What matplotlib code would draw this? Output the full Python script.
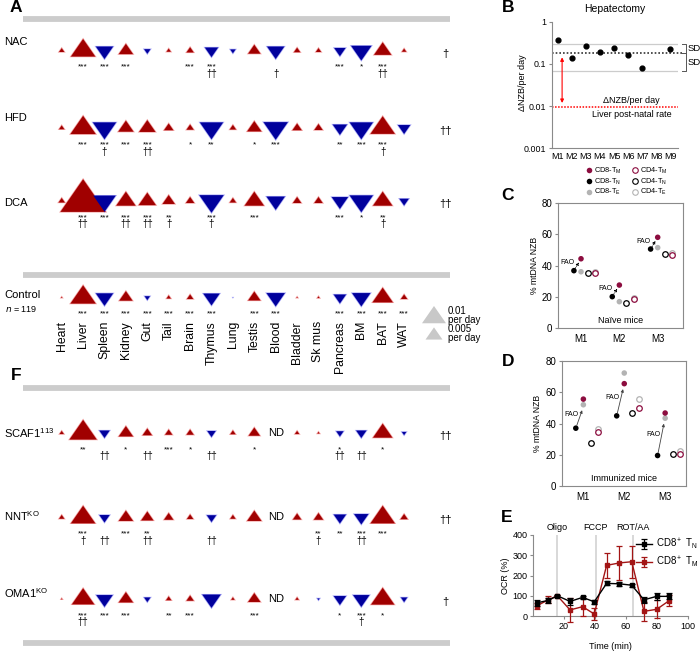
import numpy as np
import matplotlib.pyplot as plt
from matplotlib.patches import Polygon
from matplotlib.lines import Line2D

plt.rcParams['font.family'] = ['Liberation Sans', 'DejaVu Sans']
plt.rcParams['mathtext.default'] = 'regular'

# ---- panel A / F data: NZB change per day (x1e-3, + up / - down), None = ND
organs = ['Heart', 'Liver', 'Spleen', 'Kidney', 'Gut', 'Tail', 'Brain', 'Thymus', 'Lung',
          'Testis', 'Blood', 'Bladder', 'Sk mus', 'Pancreas', 'BM', 'BAT', 'WAT']

nac = [1.1, 12.7, -6.9, 5.0, -1.4, 0.85, 1.7, -4.4, -1.1, 3.9, -6.9, 1.4, 1.1, -3.4, -9.2, 6.9, 0.85]
hfd = [1.1, 13.6, -11.7, 5.6, 6.3, 2.5, 1.7, -11.7, 1.4, 5.0, -12.7, 2.5, 2.1, -5.0, -11.7, 12.7, -3.9]
dca = [1.4, 40.0, -10.9, 8.4, 6.9, 3.9, 2.1, -12.7, 1.4, 8.4, -7.7, 2.1, 2.1, -6.3, -11.7, 8.4, -2.5]
control = [0.28, 13.6, -6.9, 4.4, -1.1, 0.85, 1.4, -6.3, -0.11, 3.9, -7.7, 0.28, 0.43, -3.9, -7.7, 9.2, 1.4]
scaf1 = [0.85, 15.6, -2.9, 5.0, 2.5, 1.7, 1.7, -2.1, 1.1, 3.4, None, 0.85, 0.43, -1.7, -2.9, 8.4, -0.85]
nnt = [1.1, 12.7, -2.9, 5.0, 3.9, 2.5, 1.4, -2.5, 1.1, 5.0, None, 2.1, 2.5, -3.9, -5.0, 12.7, 1.7]
oma1 = [0.28, 10.9, -6.3, 5.0, -1.4, 1.1, 1.7, -7.7, 0.63, 3.9, None, 0.63, -0.43, -3.9, -6.3, 11.7, -1.4]

nac_stars = ['', '***', '***', '***', '', '', '***', '***', '', '', '', '', '', '***', '*', '***', '']
nac_dag = ['', '', '', '', '', '', '', '††', '', '', '†', '', '', '', '', '††', '']
hfd_stars = ['', '***', '***', '***', '***', '', '*', '**', '', '*', '***', '', '', '**', '***', '***', '']
hfd_dag = ['', '', '†', '', '††', '', '', '', '', '', '', '', '', '', '', '†', '']
dca_stars = ['', '***', '***', '***', '***', '**', '', '***', '', '***', '', '', '', '***', '*', '**', '']
dca_dag = ['', '††', '', '††', '††', '†', '', '†', '', '', '', '', '', '', '', '†', '']
control_stars = ['', '***', '***', '***', '***', '***', '***', '***', '', '***', '***', '', '', '***', '***', '***', '***']
control_dag = [''] * 17
scaf1_stars = ['', '**', '', '*', '', '***', '*', '', '', '*', '', '', '', '*', '', '*', '']
scaf1_dag = ['', '', '††', '', '††', '', '', '††', '', '', '', '', '', '††', '††', '', '']
nnt_stars = ['', '***', '', '***', '**', '', '', '', '', '', '', '', '**', '**', '***', '***', '']
nnt_dag = ['', '†', '††', '', '††', '', '', '††', '', '', '', '', '†', '', '††', '', '']
oma1_stars = ['', '***', '***', '***', '', '**', '***', '', '', '***', '', '', '', '*', '***', '*', '']
oma1_dag = ['', '††', '', '', '', '', '', '', '', '', '', '', '', '', '†', '', '']

row_names = ['NAC', 'HFD', 'DCA', 'Control', 'SCAF1$^{113}$', 'NNT$^{KO}$', 'OMA1$^{KO}$']
row_end = ['†', '††', '††', '', '††', '††', '†']

# ---- panel B
hep_mice = ['M1', 'M2', 'M3', 'M4', 'M5', 'M6', 'M7', 'M8', 'M9']
hep_rate = [0.37, 0.141, 0.27, 0.19, 0.235, 0.163, 0.079, np.nan, 0.226]
hep_mean, hep_sd = 0.179, 0.111
liver_postnatal = 0.0097

# ---- panels C / D
mice = ['M1', 'M2', 'M3']
naive = {'cd8_tn': [36.8, 20.2, 50.6], 'cd8_tm': [44.4, 27.6, 58.1], 'cd8_te': [36.1, 17.0, 51.5],
         'cd4_tn': [35.5, 16.3, 47.2], 'cd4_tm': [35.3, 18.5, 46.8], 'cd4_te': [35.8, 19.5, 48.3]}
immun = {'cd8_tn': [37.0, 44.9, 19.5], 'cd8_tm': [55.6, 65.5, 46.7], 'cd8_te': [52.0, 72.3, 43.4],
         'cd4_tn': [27.8, 46.7, 20.5], 'cd4_tm': [34.7, 49.9, 20.5], 'cd4_te': [36.4, 55.6, 22.7]}

# ---- panel E
time_min = [2.4, 9.9, 15.7, 23.9, 32.0, 39.5, 47.5, 55.7, 63.7, 71.6, 79.8, 87.7]
ocr_tn = [65, 77, 100, 72, 92, 70, 161, 159, 152, 80, 97, 97]
ocr_tn_err = [15, 12, 4, 18, 8, 10, 10, 10, 8, 15, 18, 15]
ocr_tm = [50, 80, 100, 30, 46, 10, 250, 262, 268, 23, 33, 75]
ocr_tm_err = [15, 18, 4, 58, 45, 30, 60, 85, 78, 48, 45, 28]
injections = [15.5, 40.5, 64.5]
inj_names = ['Oligo', 'FCCP', 'ROT/AA']

red_dark, red_light = '#a00000', '#f29c9c'
blue_dark, blue_light = '#00009c', '#a0a0f4'
maroon, grey = '#8c0d3f', '#b3b3b3'

fig = plt.figure(figsize=(7, 6.51), dpi=100)
ax = fig.add_axes([0, 0, 1, 1])
ax.set_xlim(0, 700)
ax.set_ylim(651, 0)
ax.axis('off')

org_x = 61.7 + 21.4 * np.arange(len(organs))
row_y = [50.7, 128, 201, 297.5, 433, 517.5, 599]
rows = [nac, hfd, dca, control, scaf1, nnt, oma1]
stars = [nac_stars, hfd_stars, dca_stars, control_stars, scaf1_stars, nnt_stars, oma1_stars]
dags = [nac_dag, hfd_dag, dca_dag, control_dag, scaf1_dag, nnt_dag, oma1_dag]
label_y = [42, 118, 203, 295, 433, 516, 593]


def tri(xc, yc, w, up, color, z):
    h = 0.72 * w
    if up:
        pts = [(xc - w / 2, yc + h / 3), (xc + w / 2, yc + h / 3), (xc, yc - 2 * h / 3)]
    else:
        pts = [(xc - w / 2, yc - h / 3), (xc + w / 2, yc - h / 3), (xc, yc + 2 * h / 3)]
    ax.add_patch(Polygon(pts, closed=True, facecolor=color, edgecolor='none', zorder=z))


for r, vals in enumerate(rows):
    yc = row_y[r]
    for i, v in enumerate(vals):
        if v is None:
            ax.text(org_x[i], yc, 'ND', ha='center', va='center', fontsize=8)
            continue
        w = 24 * np.sqrt(abs(v) / 10)
        up = v > 0
        tri(org_x[i], yc, w, up, red_light if up else blue_light, 2)
        if w > 4:
            tri(org_x[i], yc, w - 2.6, up, red_dark if up else blue_dark, 3)
        if stars[r][i]:
            ax.text(org_x[i], yc + 16.5, stars[r][i], ha='center', va='center', fontsize=6)
        if dags[r][i]:
            ax.text(org_x[i], yc + 23.5, dags[r][i], ha='center', va='center', fontsize=7)
    ax.text(4, label_y[r], row_names[r], ha='left', va='center', fontsize=8)
    if row_end[r]:
        ax.text(445, yc + 3, row_end[r], ha='center', va='center', fontsize=8)

ax.text(5, 308.5, '$\\it{n}$ = 119', ha='left', va='center', fontsize=6.5)

for y in [19.3, 275, 387.7, 643.3]:
    ax.hlines(y, 23, 450, color='#cccccc', lw=4.2)

for i, name in enumerate(organs):
    ax.text(org_x[i], 321, name, rotation=90, ha='center', va='top', fontsize=8.8)

# size legend
for v, yc, lab in [(10, 317.5, '0.01\nper day'), (5, 335.5, '0.005\nper day')]:
    tri(434, yc, 24 * np.sqrt(v / 10), True, '#c8c8c8', 2)
    ax.text(448, yc - 2, lab, ha='left', va='center', fontsize=7, linespacing=0.8)

for lab, x, y in [('A', 16, 8), ('F', 16, 375), ('B', 508, 8), ('C', 508, 196),
                  ('D', 508, 362), ('E', 507, 518)]:
    ax.text(x, y, lab, ha='center', va='center', fontsize=12.5, fontweight='bold')


def style(a, full=False):
    for s in a.spines.values():
        s.set_color('#8a8a8a')
        s.set_linewidth(0.8)
    if not full:
        a.spines['top'].set_visible(False)
        a.spines['right'].set_visible(False)
    a.tick_params(colors='#8a8a8a', labelcolor='black', length=2.5, width=0.8, pad=1.5)


# ---- B
axB = fig.add_axes([552 / 700, 1 - 148.3 / 651, 126 / 700, 126.6 / 651])
style(axB)
axB.set_yscale('log')
axB.set_ylim(0.001, 1)
xb = np.arange(1, len(hep_mice) + 1)
axB.set_xlim(0.58, 9.56)
axB.scatter(xb, hep_rate, s=12, color='black', zorder=3, clip_on=False)
axB.axhline(hep_mean, xmin=0, xmax=1.03, color='#333333', ls=(0, (1, 1.2)), lw=1.2, clip_on=False)
for yy in [hep_mean + hep_sd, hep_mean - hep_sd]:
    axB.axhline(yy, color='#cccccc', lw=0.9)
axB.axhline(liver_postnatal, color='red', ls=(0, (1, 1)), lw=1.1)
axB.annotate('', xy=(1.3, liver_postnatal * 1.05), xytext=(1.3, hep_mean * 0.93),
             arrowprops=dict(arrowstyle='<|-|>', color='red', lw=0.8, mutation_scale=5))
bt = axB.get_yaxis_transform()
for y1, y2 in [(hep_mean + hep_sd, hep_mean), (hep_mean, hep_mean - hep_sd)]:
    axB.plot([1.035, 1.06, 1.06, 1.035], [y1, y1, y2, y2], color='#555555', lw=0.7,
             transform=bt, clip_on=False)
    axB.text(1.073, np.sqrt(y1 * y2), 'SD', transform=bt, ha='left', va='center', fontsize=6.8)
axB.text(0.63, 0.0133, 'ΔNZB/per day', transform=bt, ha='center', va='center', fontsize=6.5)
axB.text(0.63, 0.0064, 'Liver post-natal rate', transform=bt, ha='center', va='center', fontsize=6.5)
axB.set_xticks(xb, hep_mice, fontsize=6.4)
axB.tick_params(axis='x', length=0, pad=3)
axB.set_yticks([0.001, 0.01, 0.1, 1], ['0.001', '0.01', '0.1', '1'], fontsize=6.4)
axB.minorticks_off()
axB.set_ylabel('ΔNZB/per day', fontsize=6.5)
axB.yaxis.set_label_coords(-0.2, 0.52)
axB.set_title('Hepatectomy', fontsize=7.5, pad=7)

# ---- C / D
offs = {'cd8_tn': -0.185, 'cd8_tm': 0.0, 'cd8_te': 0.0, 'cd4_tn': 0.185, 'cd4_tm': 0.37, 'cd4_te': 0.37}
cols = {'cd8_tn': 'black', 'cd8_tm': maroon, 'cd8_te': grey,
        'cd4_tn': 'black', 'cd4_tm': maroon, 'cd4_te': grey}
draw_order = ['cd4_te', 'cd4_tn', 'cd4_tm', 'cd8_te', 'cd8_tm', 'cd8_tn']


def cells(a, d, xl, caption, immunized):
    style(a, full=True)
    xm = np.arange(1, len(mice) + 1)
    for k in draw_order:
        x = xm + offs[k]
        if k.startswith('cd8'):
            a.scatter(x, d[k], s=16, color=cols[k], edgecolor='none', zorder=3)
        else:
            a.scatter(x, d[k], s=16, facecolor='white', edgecolor=cols[k], linewidth=0.9, zorder=3)
    for i in range(len(mice)):
        bx, by = xm[i] + offs['cd8_tn'], d['cd8_tn'][i]
        if immunized:
            ex, ey = xm[i] - 0.03, min(d['cd8_tm'][i], d['cd8_te'][i]) - 3.5
            a.annotate('', xy=(ex, ey), xytext=(bx, by),
                       arrowprops=dict(arrowstyle='-|>', color='#444444', lw=0.6,
                                       mutation_scale=4, shrinkA=2, shrinkB=0))
            a.text(bx + 0.06, (by + ey) / 2 + 3, 'FAO', ha='right', va='center', fontsize=5)
        else:
            a.annotate('', xy=(xm[i] + offs['cd8_tm'], d['cd8_tm'][i]), xytext=(bx, by),
                       arrowprops=dict(arrowstyle='-|>', color='black', lw=0.6, ls=':',
                                       mutation_scale=4, shrinkA=2, shrinkB=3))
            a.text(bx - 0.18, by + 5, 'FAO', ha='center', va='center', fontsize=5)
    a.set_xlim(*xl)
    a.set_ylim(0, 80)
    a.set_xticks(xm, mice, fontsize=7)
    a.tick_params(axis='x', length=0, pad=4)
    a.set_yticks([0, 20, 40, 60, 80])
    a.tick_params(axis='y', labelsize=7)
    a.set_ylabel('% mtDNA NZB', fontsize=6.2, labelpad=2)
    a.text(0.5, 0.06, caption, transform=a.transAxes, ha='center', va='center', fontsize=6.5)


axC = fig.add_axes([558 / 700, 1 - 328.3 / 651, 125 / 700, 125.3 / 651])
cells(axC, naive, (0.40, 3.66), 'Naïve mice', False)
axD = fig.add_axes([561.7 / 700, 1 - 486 / 651, 124.3 / 700, 125 / 651])
cells(axD, immun, (0.47, 3.51), 'Immunized mice', True)

leg_keys = ['cd8_tm', 'cd8_tn', 'cd8_te', 'cd4_tm', 'cd4_tn', 'cd4_te']
leg_labels = ['CD8-T$_M$', 'CD8-T$_N$', 'CD8-T$_E$', 'CD4-T$_M$', 'CD4-T$_N$', 'CD4-T$_E$']
handles = []
for k in leg_keys:
    filled = k.startswith('cd8')
    handles.append(Line2D([], [], ls='none', marker='o', ms=4,
                          markerfacecolor=cols[k] if filled else 'white',
                          markeredgecolor=cols[k] if not filled else 'none', markeredgewidth=0.8))
axC.legend(handles, leg_labels, ncol=2, loc='lower center', bbox_to_anchor=(0.55, 1.01),
           fontsize=5.3, frameon=False, handletextpad=0.2, columnspacing=1.3,
           labelspacing=0.08, handlelength=1, borderpad=0.1)

# ---- E
axE = fig.add_axes([533 / 700, 1 - 616 / 651, 155 / 700, 81 / 651])
style(axE)
for t, name in zip(injections, inj_names):
    axE.axvline(t, color='#d6d6d6', lw=1.3, zorder=0)
    axE.text(t, 1.09, name, transform=axE.get_xaxis_transform(), ha='center', va='center',
             fontsize=6.5)
axE.errorbar(time_min, ocr_tm, yerr=ocr_tm_err, color='#a31515', marker='s', ms=2.5, lw=1,
             elinewidth=0.9, capsize=2, capthick=0.9, clip_on=False, label='CD8$^+$ T$_M$', zorder=3)
axE.errorbar(time_min, ocr_tn, yerr=ocr_tn_err, color='black', marker='s', ms=2.5, lw=1,
             elinewidth=0.9, capsize=2, capthick=0.9, clip_on=False, label='CD8$^+$ T$_N$', zorder=4)
h, l = axE.get_legend_handles_labels()
axE.legend(h[::-1], l[::-1], loc='upper left', bbox_to_anchor=(0.63, 1.05), fontsize=7,
           frameon=False, handlelength=1.6, handletextpad=0.4, labelspacing=0.3, borderpad=0.1)
axE.set_xlim(0, 100)
axE.set_ylim(0, 400)
axE.set_xticks([20, 40, 60, 80, 100])
axE.set_yticks([0, 100, 200, 300, 400])
axE.tick_params(labelsize=6.5)
axE.set_xlabel('Time (min)', fontsize=6.5, labelpad=8)
axE.set_ylabel('OCR (%)', fontsize=6.5, labelpad=2)

fig.savefig('out.png', dpi=100)
